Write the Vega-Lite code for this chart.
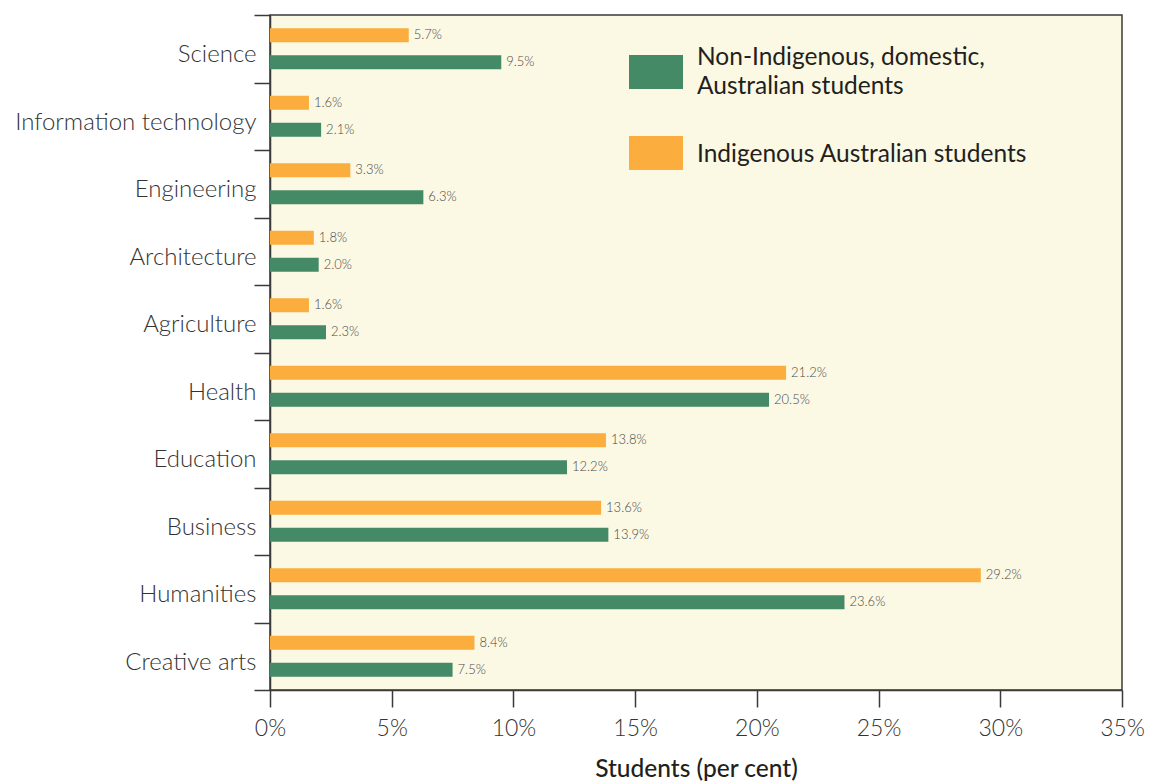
{
  "$schema": "https://vega.github.io/schema/vega-lite/v6.json",
  "width": 852,
  "height": 675,
  "autosize": "none",
  "padding": {"left": 270, "top": 15, "right": 29, "bottom": 93},
  "background": "white",
  "config": {
    "font": "Lato",
    "view": {"fill": "#fbf8e3", "stroke": "#3a3a3a", "strokeWidth": 1.5},
    "style": {"guide-label": {"lineHeight": 29}}
  },
  "data": {
    "values": [
      {"field": "Science", "group": "Indigenous Australian students", "value": 0.057},
      {"field": "Science", "group": "Non-Indigenous, domestic, Australian students", "value": 0.095},
      {"field": "Information technology", "group": "Indigenous Australian students", "value": 0.016},
      {"field": "Information technology", "group": "Non-Indigenous, domestic, Australian students", "value": 0.021},
      {"field": "Engineering", "group": "Indigenous Australian students", "value": 0.033},
      {"field": "Engineering", "group": "Non-Indigenous, domestic, Australian students", "value": 0.063},
      {"field": "Architecture", "group": "Indigenous Australian students", "value": 0.018},
      {"field": "Architecture", "group": "Non-Indigenous, domestic, Australian students", "value": 0.020},
      {"field": "Agriculture", "group": "Indigenous Australian students", "value": 0.016},
      {"field": "Agriculture", "group": "Non-Indigenous, domestic, Australian students", "value": 0.023},
      {"field": "Health", "group": "Indigenous Australian students", "value": 0.212},
      {"field": "Health", "group": "Non-Indigenous, domestic, Australian students", "value": 0.205},
      {"field": "Education", "group": "Indigenous Australian students", "value": 0.138},
      {"field": "Education", "group": "Non-Indigenous, domestic, Australian students", "value": 0.122},
      {"field": "Business", "group": "Indigenous Australian students", "value": 0.136},
      {"field": "Business", "group": "Non-Indigenous, domestic, Australian students", "value": 0.139},
      {"field": "Humanities", "group": "Indigenous Australian students", "value": 0.292},
      {"field": "Humanities", "group": "Non-Indigenous, domestic, Australian students", "value": 0.236},
      {"field": "Creative arts", "group": "Indigenous Australian students", "value": 0.084},
      {"field": "Creative arts", "group": "Non-Indigenous, domestic, Australian students", "value": 0.075}
    ]
  },
  "encoding": {
    "y": {
      "field": "field",
      "type": "nominal",
      "sort": null,
      "scale": {"paddingInner": 0, "paddingOuter": 0},
      "axis": {
        "title": null,
        "tickBand": "extent",
        "tickSize": 16,
        "tickColor": "#3a3a3a",
        "tickWidth": 1.5,
        "domainColor": "#3a3a3a",
        "domainWidth": 1.5,
        "labelFontSize": 24,
        "labelFontWeight": 300,
        "labelColor": "#333333",
        "labelPadding": -2,
        "labelOffset": 6,
        "labelLimit": 300
      }
    },
    "yOffset": {
      "field": "group",
      "type": "nominal",
      "sort": ["Indigenous Australian students", "Non-Indigenous, domestic, Australian students"],
      "scale": {"paddingInner": 0.48, "paddingOuter": 0.49}
    },
    "x": {
      "field": "value",
      "type": "quantitative",
      "scale": {"domain": [0, 0.35], "nice": false},
      "axis": {
        "title": "Students (per cent)",
        "format": ".0%",
        "values": [0, 0.05, 0.1, 0.15, 0.2, 0.25, 0.3, 0.35],
        "grid": false,
        "tickSize": 17,
        "tickColor": "#3a3a3a",
        "tickWidth": 1.5,
        "domainColor": "#3a3a3a",
        "domainWidth": 1.5,
        "labelFontSize": 23,
        "labelFontWeight": 300,
        "labelColor": "#333333",
        "labelPadding": 10,
        "labelFlush": false,
        "titleFontSize": 24.5,
        "titleFontWeight": 500,
        "titleColor": "#231f20",
        "titlePadding": 17
      }
    }
  },
  "layer": [
    {
      "mark": {"type": "bar", "opacity": 1},
      "encoding": {
        "color": {
          "field": "group",
          "type": "nominal",
          "scale": {
            "domain": ["Non-Indigenous, domestic, Australian students", "Indigenous Australian students"],
            "range": ["#458a67", "#fbad3d"]
          },
          "legend": {
            "title": null,
            "orient": "none",
            "legendX": 359,
            "legendY": 30,
            "symbolType": "M-1,-0.63H1V0.63H-1Z",
            "symbolSize": 2916,
            "symbolStrokeWidth": 0,
            "symbolOpacity": 1,
            "labelFontSize": 24.5,
            "labelColor": "#231f20",
            "labelLimit": 500,
            "labelOffset": 14,
            "rowPadding": 27,
            "labelExpr": "datum.label == 'Non-Indigenous, domestic, Australian students' ? ['Non-Indigenous, domestic,', 'Australian students'] : datum.label",
            "encode": {
              "labels": {
                "update": {
                  "dy": {"signal": "datum.value == 'Non-Indigenous, domestic, Australian students' ? -14 : 2"}
                }
              }
            }
          }
        }
      }
    },
    {
      "mark": {"type": "text", "align": "left", "baseline": "middle", "dx": 5, "fontSize": 13, "fontWeight": 300, "color": "#4a4a4a"},
      "encoding": {
        "text": {"field": "value", "type": "quantitative", "format": ".1%"}
      }
    }
  ]
}
